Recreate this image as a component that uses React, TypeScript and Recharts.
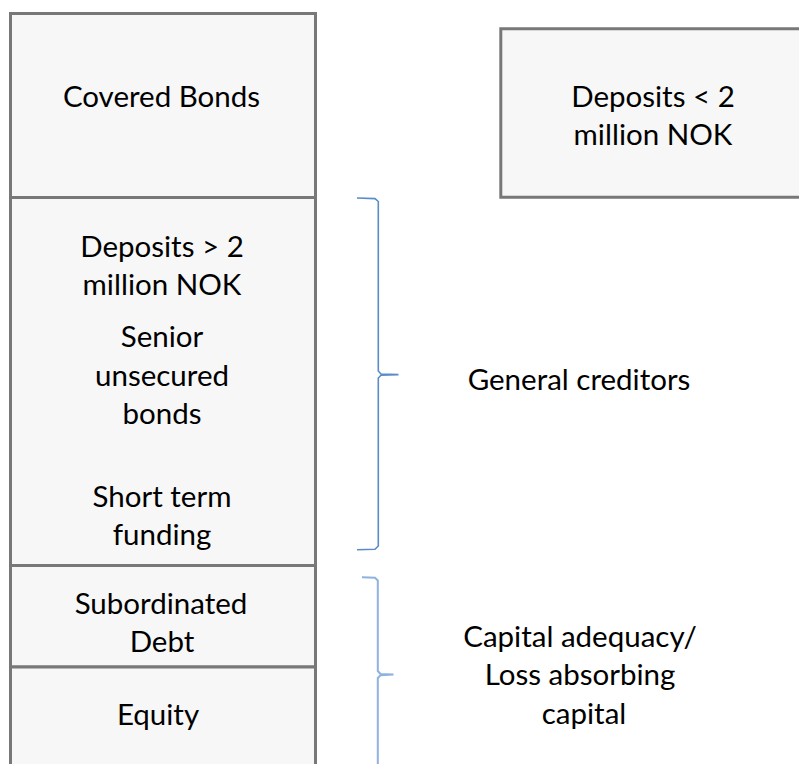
import { ComposedChart, XAxis, YAxis, ReferenceArea, Line, Scatter } from "recharts";

// diagram space: x 0..799, y 0..764 (y grows downward)
const W = 799;
const H = 764;

// left column: layer names and their boundaries (top -> bottom)
const layerNames = ["Covered Bonds", "General creditors", "Subordinated Debt", "Equity"];
const layerBounds = [13.5, 197.5, 565.5, 667, 790];

// standalone box at the top right
const depositBox = { x1: 500.8, x2: 810, y1: 28.7, y2: 197.3 };

// braces grouping the layers
const generalBrace = [
  { x: 357, y: 198 },
  { x: 375, y: 198.6 },
  { x: 378.3, y: 201.5 },
  { x: 378.3, y: 371 },
  { x: 381, y: 374 },
  { x: 398.5, y: 374.6 },
  { x: 381, y: 375.3 },
  { x: 378.3, y: 378 },
  { x: 378.3, y: 546 },
  { x: 375, y: 549.2 },
  { x: 357, y: 549.8 }
];

const capitalBrace = [
  { x: 362, y: 577.3 },
  { x: 375, y: 577.8 },
  { x: 377.8, y: 580.5 },
  { x: 377.8, y: 671 },
  { x: 380.5, y: 674 },
  { x: 393.5, y: 674.5 },
  { x: 380.5, y: 675.2 },
  { x: 377.8, y: 678 },
  { x: 377.8, y: 764 }
];

// text lines
const labels = [
  { x: 161.5, y: 96, text: "Covered Bonds" },
  { x: 162, y: 246, text: "Deposits > 2" },
  { x: 162, y: 284, text: "million NOK" },
  { x: 162, y: 336, text: "Senior" },
  { x: 162, y: 375, text: "unsecured" },
  { x: 162, y: 413, text: "bonds" },
  { x: 162, y: 496, text: "Short term" },
  { x: 162, y: 534, text: "funding" },
  { x: 161, y: 603, text: "Subordinated" },
  { x: 162, y: 641, text: "Debt" },
  { x: 158, y: 714, text: "Equity" },
  { x: 653, y: 96, text: "Deposits < 2" },
  { x: 653, y: 134, text: "million NOK" },
  { x: 579, y: 379, text: "General creditors" },
  { x: 580, y: 636, text: "Capital adequacy/" },
  { x: 580, y: 674, text: "Loss absorbing" },
  { x: 584, y: 713, text: "capital" }
];

const FONT = 29.5;

const TextShape = (props: any) => {
  const { cx, cy, payload } = props;
  return (
    <text
      x={cx}
      y={cy + FONT * 0.36}
      textAnchor="middle"
      fontFamily="Lato, sans-serif"
      fontSize={FONT}
      fill="#000"
    >
      {payload.text}
    </text>
  );
};

export default function App() {
  return (
    <div style={{ width: W, height: H, background: "#fff" }}>
      <style>{`body{margin:0}`}</style>
      <ComposedChart
        width={W}
        height={H}
        margin={{ top: 0, right: 0, bottom: 0, left: 0 }}
      >
        <XAxis type="number" dataKey="x" domain={[0, W]} allowDataOverflow hide />
        <YAxis type="number" dataKey="y" domain={[0, H]} reversed allowDataOverflow hide />

        {layerNames.map((name, i) => (
          <ReferenceArea
            key={name}
            x1={10.5}
            x2={315.5}
            y1={layerBounds[i]}
            y2={layerBounds[i + 1]}
            fill="#f7f7f7"
            fillOpacity={1}
            stroke="#787878"
            strokeWidth={3}
            ifOverflow="hidden"
          />
        ))}

        <ReferenceArea
          x1={depositBox.x1}
          x2={depositBox.x2}
          y1={depositBox.y1}
          y2={depositBox.y2}
          fill="#f7f7f7"
          fillOpacity={1}
          stroke="#787878"
          strokeWidth={3}
          ifOverflow="hidden"
        />

        <Line
          data={generalBrace}
          dataKey="y"
          type="linear"
          stroke="#5b8cc8"
          strokeWidth={1.6}
          dot={false}
          isAnimationActive={false}
        />
        <Line
          data={capitalBrace}
          dataKey="y"
          type="linear"
          stroke="#8fb2e0"
          strokeWidth={2}
          dot={false}
          isAnimationActive={false}
        />

        <Scatter data={labels} dataKey="y" shape={TextShape} isAnimationActive={false} />
      </ComposedChart>
    </div>
  );
}
